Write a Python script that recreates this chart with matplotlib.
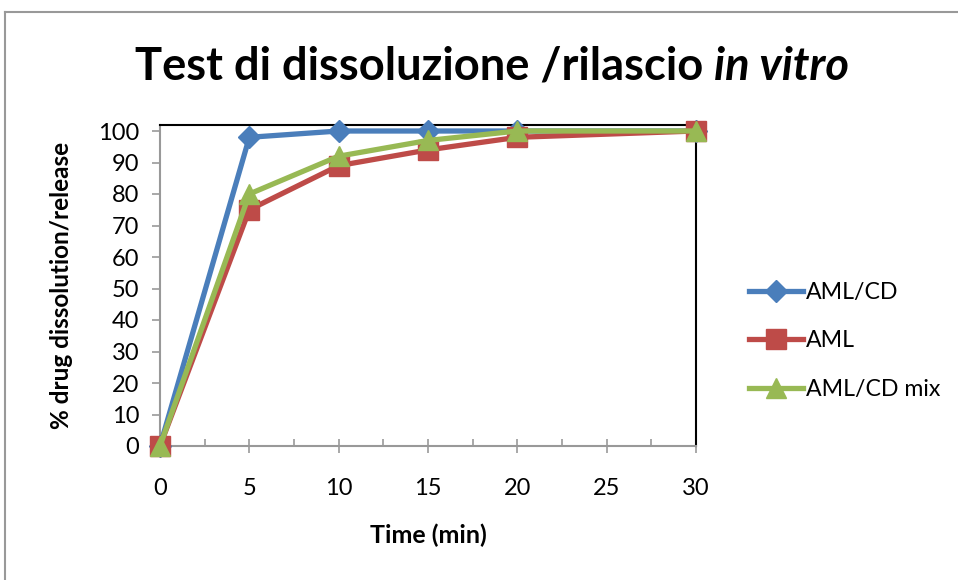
import matplotlib
matplotlib.use('Agg')
import matplotlib.pyplot as plt
from matplotlib.lines import Line2D
from matplotlib.ticker import MultipleLocator

plt.rcParams['font.family'] = ['Lato', 'DejaVu Sans']

time_min = [0, 5, 10, 15, 20, 30]
aml_cd = [0, 98, 100, 100, 100, 100]
aml = [0, 75, 89, 94, 98, 100]
aml_cd_mix = [0, 80, 92, 97, 100, 100]
x_ticks = [0, 5, 10, 15, 20, 25, 30]
y_ticks = list(range(0, 101, 10))

fig = plt.figure(figsize=(9.58, 5.8), dpi=100)
ax = fig.add_axes([160/958, 1 - 446/580, (696 - 160)/958, (446 - 124.7)/580])

ax.plot(time_min, aml_cd, color='#4A7EBB', lw=3.8, marker='D', ms=11, label='AML/CD', clip_on=False, zorder=3)
ax.plot(time_min, aml, color='#BE4B48', lw=3.8, marker='s', ms=14, label='AML', clip_on=False, zorder=4)
ax.plot(time_min, aml_cd_mix, color='#98B954', lw=3.8, marker='^', ms=15, label='AML/CD mix', clip_on=False, zorder=5)

ax.set_xlim(0, 30)
ax.set_ylim(0, 102)
ax.set_xticks(x_ticks)
ax.set_yticks(y_ticks)
ax.xaxis.set_minor_locator(MultipleLocator(2.5))
ax.tick_params(axis='x', which='major', direction='inout', length=10, width=1.2, color='#999999', labelsize=17, pad=18)
ax.tick_params(axis='x', which='minor', direction='in', length=5, width=1.2, color='#999999')
ax.tick_params(axis='y', which='major', direction='out', length=6, width=1.2, color='#999999', labelsize=17, pad=9)

for s in ['left', 'bottom']:
    ax.spines[s].set_color('#999999')
    ax.spines[s].set_linewidth(1.5)
for s in ['top', 'right']:
    ax.spines[s].set_color('black')
    ax.spines[s].set_linewidth(1.5)

ax.set_xlabel('Time (min)', fontsize=18, fontweight='bold', labelpad=18)
ax.set_ylabel('% drug dissolution/release', fontsize=17.5, fontweight='bold')
ax.yaxis.set_label_coords(73/958, 1 - 285/580, transform=fig.transFigure)

ax.legend(loc='center left', bbox_to_anchor=(740/958, 1 - 341/580), bbox_transform=fig.transFigure,
          frameon=False, fontsize=16.7, handlelength=2.3, labelspacing=1.17, handletextpad=0.15,
          borderaxespad=0)

# title: bold part + bold italic part
t1 = fig.text(0, 65/580, 'Test di dissoluzione /rilascio ', fontsize=32.6, fontweight='bold', va='center')
t2 = fig.text(0, 65/580, 'in vitro', fontsize=32.6, fontweight='bold', style='italic', va='center')
fig.canvas.draw()
r = fig.canvas.get_renderer()
w1 = t1.get_window_extent(r).width
w2 = t2.get_window_extent(r).width
x0 = 492 - (w1 + w2) / 2
t1.set_x(x0 / 958)
t2.set_x((x0 + w1) / 958)
t1.set_y(1 - 67/580)
t2.set_y(1 - 67/580)

# chart area border
fig.add_artist(Line2D([5/958, 5/958], [0, 1 - 12/580], transform=fig.transFigure, color='#999999', lw=1.5))
fig.add_artist(Line2D([5/958, 1], [1 - 12/580, 1 - 12/580], transform=fig.transFigure, color='#999999', lw=1.5))

fig.savefig('out.png', dpi=100)
